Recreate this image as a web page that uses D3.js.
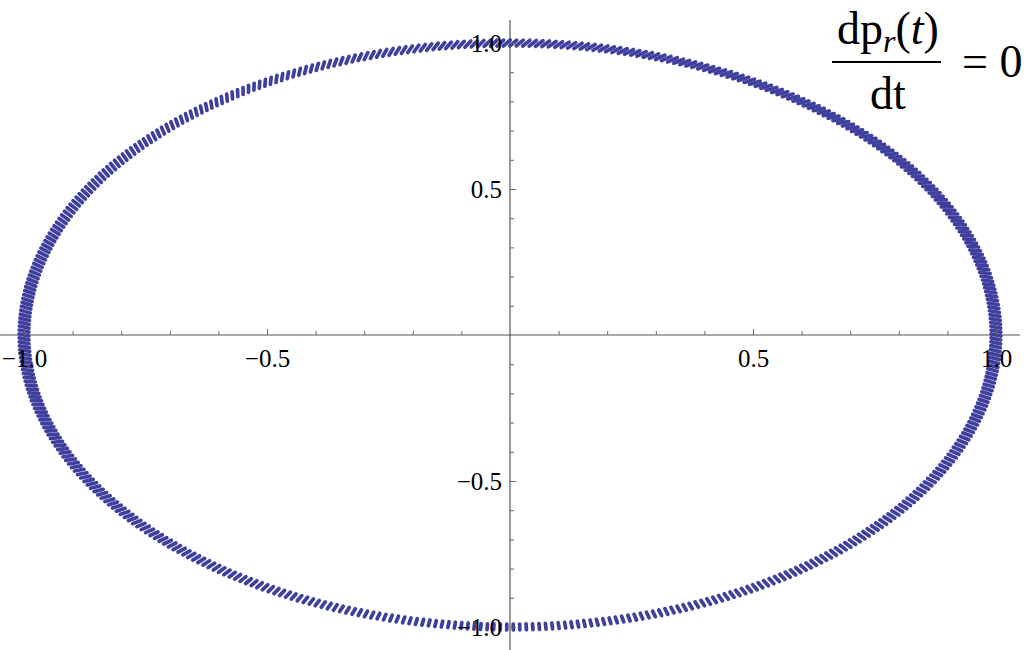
<!DOCTYPE html>
<html>
<head>
<meta charset="utf-8">
<script src="https://cdn.jsdelivr.net/npm/d3@7"></script>
<style>
  body { margin: 0; background: #fff; }
  svg { display: block; }
  .tick text { font-family: 'Liberation Serif', 'Times New Roman', serif; font-size: 25px; fill: #000; }
  .tick line { stroke: #666; }
</style>
</head>
<body>
<svg id="chart" width="1025" height="650"></svg>
<script>
// tick labels and minor ticks
const xTicks = [-1, -0.5, 0.5, 1]
const yTicks = [1, 0.5, -0.5, -1]
const minorTicks = [-0.9, -0.8, -0.7, -0.6, -0.4, -0.3, -0.2, -0.1, 0.1, 0.2, 0.3, 0.4, 0.6, 0.7, 0.8, 0.9]

// orbit: p_r constant, so the sampled points sit on r = 1
const orbitRadius = 1
const markCount = 470
const radialSpread = [0.99, 1.01]

const width = 1025
const height = 650
const svg = d3.select('#chart')

const xScale = d3.scaleLinear().domain([-1, 1]).range([24, 996])
const yScale = d3.scaleLinear().domain([-1, 1]).range([627, 43])
const fmt = d3.format('.1f')

// points
const marks = d3.range(markCount).map(i => {
  const theta = (i / markCount) * 2 * Math.PI
  const skew = 0.007 * (1 + Math.sin(theta)) / 2
  return {
    x1: radialSpread[0] * orbitRadius * Math.cos(theta + skew),
    y1: radialSpread[0] * orbitRadius * Math.sin(theta + skew),
    x2: radialSpread[1] * orbitRadius * Math.cos(theta - skew),
    y2: radialSpread[1] * orbitRadius * Math.sin(theta - skew)
  }
})

// axis lines
svg.append('line')
  .attr('x1', 0).attr('x2', 1020)
  .attr('y1', yScale(0)).attr('y2', yScale(0))
  .attr('stroke', '#555').attr('stroke-width', 1.2)
svg.append('line')
  .attr('x1', xScale(0)).attr('x2', xScale(0))
  .attr('y1', 20).attr('y2', height)
  .attr('stroke', '#555').attr('stroke-width', 1.2)

// minor ticks
svg.append('g')
  .attr('transform', `translate(0, ${yScale(0)})`)
  .call(d3.axisBottom(xScale).tickValues(minorTicks).tickSize(-4).tickFormat(''))
  .call(g => g.select('.domain').remove())
svg.append('g')
  .attr('transform', `translate(${xScale(0)}, 0)`)
  .call(d3.axisLeft(yScale).tickValues(minorTicks).tickSize(-4).tickFormat(''))
  .call(g => g.select('.domain').remove())

// points drawn under labels
svg.append('g')
  .selectAll('line')
  .data(marks)
  .enter()
  .append('line')
  .attr('x1', d => xScale(d.x1))
  .attr('y1', d => yScale(d.y1))
  .attr('x2', d => xScale(d.x2))
  .attr('y2', d => yScale(d.y2))
  .attr('stroke', '#3f3f9e')
  .attr('stroke-width', 3.7)
  .attr('stroke-linecap', 'round')

// major ticks with labels
svg.append('g')
  .attr('transform', `translate(0, ${yScale(0)})`)
  .call(d3.axisBottom(xScale).tickValues(xTicks).tickSize(-6).tickPadding(14).tickFormat(fmt))
  .call(g => g.select('.domain').remove())
svg.append('g')
  .attr('transform', `translate(${xScale(0)}, 0)`)
  .call(d3.axisLeft(yScale).tickValues(yTicks).tickSize(-6).tickPadding(8).tickFormat(fmt))
  .call(g => g.select('.domain').remove())

// equation label
const eq = svg.append('g')
  .attr('font-family', "'Liberation Serif', 'Times New Roman', serif")
  .attr('font-size', 46)
  .attr('fill', '#000')

const num = eq.append('text')
  .attr('x', 888)
  .attr('y', 44)
  .attr('text-anchor', 'middle')
num.append('tspan').text('dp')
num.append('tspan').attr('font-style', 'italic').attr('font-size', 32).attr('dy', 8).text('r')
num.append('tspan').attr('dy', -8).text('(')
num.append('tspan').attr('font-style', 'italic').text('t')
num.append('tspan').text(')')

eq.append('line')
  .attr('x1', 832).attr('x2', 941)
  .attr('y1', 62).attr('y2', 62)
  .attr('stroke', '#000').attr('stroke-width', 2)

eq.append('text')
  .attr('x', 888)
  .attr('y', 109)
  .attr('text-anchor', 'middle')
  .text('dt')

eq.append('text')
  .attr('x', 962)
  .attr('y', 77)
  .text('= 0')
</script>
</body>
</html>
